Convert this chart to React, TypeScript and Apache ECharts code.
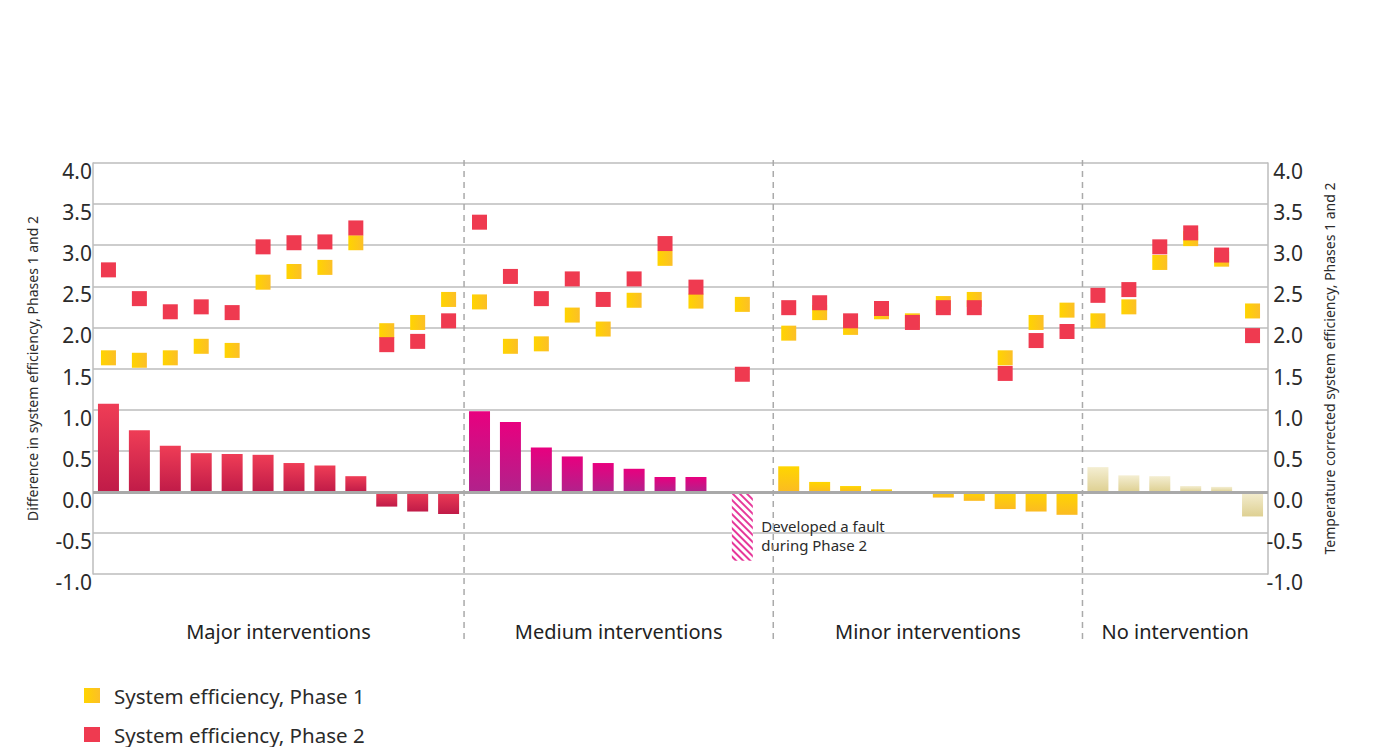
import React, { useEffect, useRef } from "react";
import * as echarts from "echarts";

// ---- data ----
const sections = ["Major interventions", "Medium interventions", "Minor interventions", "No intervention"];
const sectionSlots = [12, 10, 10, 6];

const majorDiff = [1.07, 0.75, 0.56, 0.47, 0.46, 0.45, 0.35, 0.32, 0.19, -0.18, -0.24, -0.27];
const majorPhase1 = [1.63, 1.6, 1.63, 1.77, 1.72, 2.55, 2.68, 2.73, 3.03, 1.96, 2.06, 2.34];
const majorPhase2 = [2.7, 2.35, 2.19, 2.25, 2.18, 2.98, 3.03, 3.04, 3.21, 1.79, 1.83, 2.08];

const mediumDiff = [0.98, 0.85, 0.54, 0.43, 0.35, 0.28, 0.18, 0.18, null];
const mediumPhase1 = [2.31, 1.77, 1.8, 2.15, 1.98, 2.33, 2.84, 2.32, 2.28];
const mediumPhase2 = [3.28, 2.62, 2.35, 2.59, 2.34, 2.59, 3.02, 2.49, 1.43];

const minorDiff = [0.31, 0.12, 0.07, 0.03, -0.02, -0.07, -0.11, -0.21, -0.24, -0.28];
const minorPhase1 = [1.93, 2.18, 2.0, 2.19, 2.08, 2.29, 2.34, 1.63, 2.06, 2.21];
const minorPhase2 = [2.24, 2.3, 2.08, 2.23, 2.06, 2.24, 2.24, 1.44, 1.84, 1.95];

const noDiff = [0.3, 0.2, 0.19, 0.07, 0.06, -0.3];
const noPhase1 = [2.08, 2.25, 2.79, 3.08, 2.83, 2.2];
const noPhase2 = [2.39, 2.46, 2.98, 3.15, 2.88, 1.9];

const faultSection = 1;
const faultIndex = 8;
const faultExtraOffset = 0.5;
const faultBarValue = -0.84;
const faultNote = "Developed a fault\nduring Phase 2";

const seriesNames = ["System efficiency, Phase 1", "System efficiency, Phase 2"];
const leftAxisTitle = "Difference in system efficiency, Phases 1 and 2";
const rightAxisTitle = "Temperature corrected system efficiency, Phases 1 and 2";

const diffBySection = [majorDiff, mediumDiff, minorDiff, noDiff];
const p1BySection = [majorPhase1, mediumPhase1, minorPhase1, noPhase1];
const p2BySection = [majorPhase2, mediumPhase2, minorPhase2, noPhase2];

// ---- styles ----
const FONT = "'Noto Sans', 'Open Sans', sans-serif";
const TEXT = "#2b2b2b";
const barColors = [
  ["#ef3d56", "#c01b48"],
  ["#e8007f", "#b1228b"],
  ["#ffd600", "#fbbb22"],
  ["#f4eed2", "#ded092"],
];

const vGrad = (c: string[]) =>
  new echarts.graphic.LinearGradient(0, 0, 0, 1, [
    { offset: 0, color: c[0] },
    { offset: 1, color: c[1] },
  ]);

export default function App() {
  const ref = useRef<HTMLDivElement>(null);

  useEffect(() => {
    if (!ref.current) return;
    const chart = echarts.init(ref.current, undefined, { renderer: "svg" });

    const starts: number[] = [];
    let acc = 0;
    sectionSlots.forEach((n) => {
      starts.push(acc);
      acc += n;
    });
    const totalSlots = acc;
    const pos = (s: number, i: number) =>
      starts[s] + i + 0.5 + (s === faultSection && i === faultIndex ? faultExtraOffset : 0);

    const barData: any[] = [];
    const p1Data: any[] = [];
    const p2Data: any[] = [];
    diffBySection.forEach((arr, s) => {
      arr.forEach((v, i) => {
        if (v !== null) {
          barData.push({ value: [pos(s, i), v], itemStyle: { color: vGrad(barColors[s]) } });
        }
      });
      p1BySection[s].forEach((v, i) => p1Data.push([pos(s, i), v]));
      p2BySection[s].forEach((v, i) => p2Data.push([pos(s, i), v]));
    });
    const faultX = pos(faultSection, faultIndex);

    const yLabel = (v: number) => v.toFixed(1);

    const legendBase = {
      orient: "horizontal",
      left: 84,
      padding: 0,
      itemWidth: 16,
      itemHeight: 15,
      icon: "rect",
      textStyle: { fontSize: 20.5, color: TEXT, fontFamily: FONT, padding: [0, 0, 0, 9] },
    };

    chart.setOption({
      animation: false,
      textStyle: { fontFamily: FONT },
      grid: { left: 93, right: 129, top: 163, bottom: 173 },
      legend: [
        { ...legendBase, top: 685, data: [seriesNames[0]] },
        { ...legendBase, top: 724, data: [seriesNames[1]] },
      ],
      xAxis: {
        type: "value",
        min: 0,
        max: totalSlots,
        show: false,
      },
      yAxis: [
        {
          type: "value",
          min: -1,
          max: 4,
          interval: 0.5,
          position: "left",
          name: leftAxisTitle,
          nameLocation: "middle",
          nameRotate: 90,
          nameGap: 54,
          nameTextStyle: { fontSize: 14, color: TEXT, fontFamily: FONT },
          axisLine: { show: true, lineStyle: { color: "#bcbcbc", width: 1.5 } },
          axisTick: { show: false },
          axisLabel: {
            formatter: yLabel,
            fontSize: 21,
            color: TEXT,
            margin: 1,
            verticalAlign: "top",
            lineHeight: 16,
            fontFamily: FONT,
          },
          splitLine: { show: true, lineStyle: { color: "#bcbcbc", width: 1.5 } },
        },
        {
          type: "value",
          min: -1,
          max: 4,
          interval: 0.5,
          position: "right",
          name: rightAxisTitle,
          nameLocation: "middle",
          nameRotate: 90,
          nameGap: 54,
          nameTextStyle: { fontSize: 14, color: TEXT, fontFamily: FONT },
          axisLine: { show: true, lineStyle: { color: "#bcbcbc", width: 1.5 } },
          axisTick: { show: false },
          axisLabel: {
            formatter: yLabel,
            fontSize: 21,
            color: TEXT,
            margin: 35,
            align: "right",
            verticalAlign: "top",
            lineHeight: 16,
            fontFamily: FONT,
          },
          splitLine: { show: false },
        },
      ],
      series: [
        {
          name: "Difference",
          type: "bar",
          barWidth: 21,
          barGap: "-100%",
          data: barData,
          markLine: {
            silent: true,
            symbol: "none",
            label: { show: false },
            lineStyle: { color: "#a9a9a9", width: 3, type: "solid" },
            data: [{ yAxis: 0 }],
          },
        },
        {
          name: "Fault",
          type: "bar",
          barWidth: 21,
          barGap: "-100%",
          data: [
            {
              value: [faultX, faultBarValue],
              itemStyle: {
                color: "#ffffff",
                decal: {
                  symbol: "rect",
                  symbolSize: 1,
                  color: "#e6389a",
                  backgroundColor: "rgba(0,0,0,0)",
                  dashArrayX: [1, 0],
                  dashArrayY: [1.2, 2.4],
                  rotation: Math.PI / 4,
                },
              },
            },
          ],
        },
        {
          name: seriesNames[0],
          type: "scatter",
          symbol: "rect",
          symbolSize: [15, 15],
          itemStyle: {
            opacity: 1,
            color: new echarts.graphic.LinearGradient(0, 0, 1, 0, [
              { offset: 0, color: "#ffd400" },
              { offset: 1, color: "#fcbf27" },
            ]),
          },
          data: p1Data,
        },
        {
          name: seriesNames[1],
          type: "scatter",
          symbol: "rect",
          symbolSize: [15, 15],
          itemStyle: { opacity: 1, color: "#ef3a50" },
          data: p2Data,
        },
      ],
    });

    const xp = (v: number) => chart.convertToPixel({ xAxisIndex: 0 }, v) as number;
    const yp = (v: number) => chart.convertToPixel({ yAxisIndex: 0 }, v) as number;
    const top = yp(4) - 3;
    const bottom = yp(-1) + 70;
    const graphics: any[] = [];
    for (let s = 1; s < sections.length; s++) {
      const x = xp(starts[s]);
      graphics.push({
        type: "line",
        silent: true,
        shape: { x1: x, y1: top, x2: x, y2: bottom },
        style: { stroke: "#aaaaaa", lineWidth: 1.5, lineDash: [6, 5] },
        z: 10,
      });
    }
    sections.forEach((name, s) => {
      graphics.push({
        type: "text",
        silent: true,
        x: xp(starts[s] + sectionSlots[s] / 2),
        y: yp(-1) + 57,
        style: {
          text: name,
          fontSize: 20,
          fill: "#222222",
          fontFamily: FONT,
          align: "center",
          verticalAlign: "middle",
        },
      });
    });
    graphics.push({
      type: "text",
      silent: true,
      x: xp(faultX) + 19,
      y: yp(-0.3),
      style: {
        text: faultNote,
        fontSize: 15,
        lineHeight: 19,
        fill: TEXT,
        fontFamily: FONT,
        align: "left",
        verticalAlign: "top",
      },
    });
    chart.setOption({ graphic: graphics });

    return () => chart.dispose();
  }, []);

  return (
    <div
      ref={ref}
      style={{ position: "fixed", left: 0, top: 0, width: 1397, height: 747, background: "#ffffff" }}
    />
  );
}
